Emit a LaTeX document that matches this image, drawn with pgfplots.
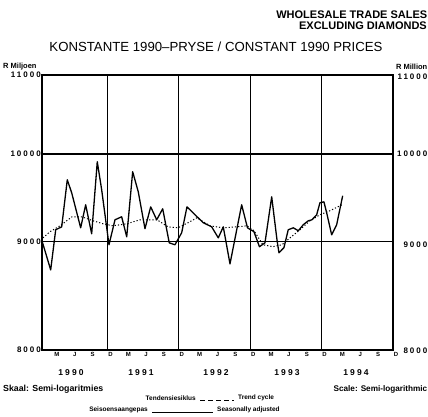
\documentclass[border=0pt]{standalone}
\usepackage{fontspec}
\setmainfont{Liberation Sans}
\newfontfamily\lsf[LetterSpace=25]{Liberation Sans}
\usepackage{pgfplots}
\pgfplotsset{compat=1.18}
\begin{document}
\begin{tikzpicture}[x=1pt,y=1pt]
\useasboundingbox (0,0) rectangle (428,417);
\begin{axis}[
  at={(42pt,67pt)}, anchor=south west,
  scale only axis, width=351pt, height=275pt,
  ymode=log, ymin=7900, ymax=11000,
  xmin=1, xmax=60,
  axis line style={line width=1.2pt},
  ytick={7900,9000,10000,11000},
  yticklabels={{8000},{9000},{10000},{11000}},
  yticklabel style={font=\fontsize{8}{8}\selectfont\lsf\bfseries, inner sep=1pt},
  ytick style={line width=1pt, black},
  major tick length=3pt,
  ymajorgrids, major grid style={black, line width=1.4pt},
  xtick={3,6,...,60},
  xticklabels={M,J,S,D,M,J,S,D,M,J,S,D,M,J,S,D,M,J,S,D},
  xticklabel style={font=\fontsize{6}{6}\selectfont\bfseries, xshift=3pt, yshift=1pt},
  xtick style={draw=none},
  extra x ticks={12,24,36,48},
  extra x tick labels={},
  extra x tick style={xmajorgrids=true, ymajorgrids=false, major grid style={black, line width=0.9pt}},
  /pgf/number format/assume math mode=true,
  clip=false,
]
\addplot[black, line width=1.3pt, line join=round] coordinates {
(1.0,9007) (2.46,8698) (3.30,9128) (4.31,9161) (5.25,9695) (5.99,9544) (7.50,9150) (8.34,9407) (9.35,9084) (10.29,9908) (11.03,9579) (12.26,8965) (13.27,9239) (14.39,9272) (15.24,9051) (16.24,9789) (17.18,9556) (18.31,9140) (19.27,9384) (20.28,9239) (21.29,9362) (22.39,8986) (23.35,8965) (24.48,9096) (25.37,9384) (26.71,9295) (28.11,9206) (29.52,9161) (30.63,9040) (31.47,9161) (32.60,8761) (34.56,9407) (35.54,9150) (36.63,9107) (37.55,8944) (38.48,8986) (39.61,9498) (40.50,9018) (40.83,8879) (41.67,8934) (42.39,9128) (43.24,9150) (44.08,9118) (44.92,9184) (45.76,9228) (46.38,9239) (47.17,9295) (47.72,9430) (48.39,9441) (48.85,9317) (49.69,9073) (50.53,9184) (51.54,9510)
};
\addplot[black, line width=1pt, dash pattern=on 1.2pt off 2pt] coordinates {
(1.17,9040) (2.34,9107) (4.03,9172) (6.04,9272) (7.72,9272) (9.57,9228) (11.25,9195) (12.93,9172) (15.29,9195) (17.47,9239) (20.33,9239) (22.18,9161) (23.86,9150) (25.54,9206) (27.05,9261) (29.24,9172) (31.42,9150) (33.77,9161) (35.45,9172) (36.63,9118) (38.14,8965) (39.82,8944) (41.34,8965) (42.68,9040) (44.36,9128) (46.04,9228) (47.72,9295) (49.40,9340) (51.42,9407)
};
\end{axis}
% titles
\node[anchor=east, font=\fontsize{11}{11}\selectfont\bfseries, inner sep=0pt] at (427.5,402) {WHOLESALE TRADE SALES};
\node[anchor=east, font=\fontsize{11}{11}\selectfont\bfseries, inner sep=0pt] at (427,391) {EXCLUDING DIAMONDS};
\node[font=\fontsize{13.2}{14}\selectfont, inner sep=0pt] at (216,370) {KONSTANTE 1990--PRYSE / CONSTANT 1990 PRICES};
\node[anchor=west, font=\fontsize{7.5}{8}\selectfont\bfseries, inner sep=0pt] at (3,350) {R Miljoen};
\node[anchor=east, font=\fontsize{7.5}{8}\selectfont\bfseries, inner sep=0pt] at (427.5,350) {R Million};
% right tick labels
\node[anchor=east, font=\fontsize{8}{8}\selectfont\lsf\bfseries, inner sep=0pt] at (427.5,340) {11000};
\node[anchor=east, font=\fontsize{8}{8}\selectfont\lsf\bfseries, inner sep=0pt] at (427.5,263) {10000};
\node[anchor=east, font=\fontsize{8}{8}\selectfont\lsf\bfseries, inner sep=0pt] at (427.5,172) {9000};
\node[anchor=east, font=\fontsize{8}{8}\selectfont\lsf\bfseries, inner sep=0pt] at (427.5,66) {8000};
% years
\foreach \xx/\yy in {71/1990,141/1991,216/1992,287/1993,356/1994}
  \node[font=\fontsize{8.5}{9}\selectfont\lsf\bfseries, inner sep=0pt] at (\xx,44) {\yy};
% scale notes
\node[anchor=west, font=\fontsize{8.8}{9}\selectfont\bfseries, inner sep=0pt] at (3,28) {Skaal: Semi-logaritmies};
\node[anchor=east, font=\fontsize{8.2}{9}\selectfont\bfseries, inner sep=0pt] at (427.5,28) {Scale: Semi-logarithmic};
% legend
\node[anchor=east, font=\fontsize{6.5}{7}\selectfont\bfseries, inner sep=0pt] at (196,19) {Tendensiesiklus};
\draw[black, line width=1pt, dash pattern=on 5pt off 3pt] (200,16.5) -- (234,16.5);
\node[anchor=west, font=\fontsize{6.5}{7}\selectfont\bfseries, inner sep=0pt] at (238,19) {Trend cycle};
\node[anchor=east, font=\fontsize{6.5}{7}\selectfont\bfseries, inner sep=0pt] at (148,7) {Seisoensaangepas};
\draw[black, line width=1pt] (152,4.5) -- (213,4.5);
\node[anchor=west, font=\fontsize{6.5}{7}\selectfont\bfseries, inner sep=0pt] at (217,7) {Seasonally adjusted};
\end{tikzpicture}
\end{document}
